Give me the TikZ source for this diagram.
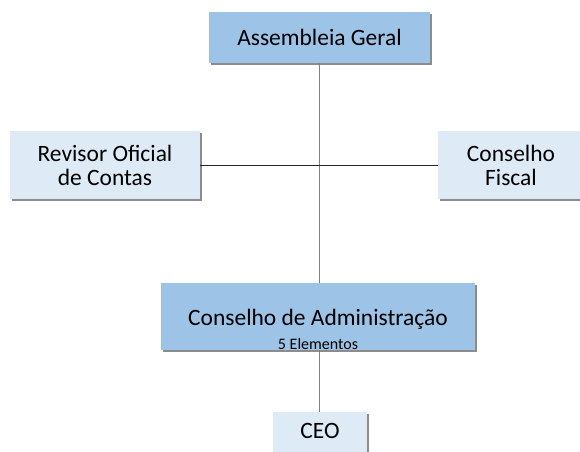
\documentclass[tikz,border=0pt]{standalone}
\usepackage{fontspec}
\setmainfont{Carlito}
\usepackage{tikz}
\usetikzlibrary{shadows}

\definecolor{boxdark}{RGB}{157,195,230}
\definecolor{boxlight}{RGB}{222,235,247}
\definecolor{linegray}{RGB}{128,128,128}

\begin{document}
\begin{tikzpicture}[x=.75pt, y=-.75pt,
  orgbox/.style={inner sep=0pt, align=center, font=\fontsize{17.6}{18}\selectfont,
    drop shadow={shadow xshift=1.8pt, shadow yshift=-1.8pt, fill=black!45, opacity=1}},
  mainbox/.style={orgbox, fill=boxdark},
  sidebox/.style={orgbox, fill=boxlight}]
\useasboundingbox (0,0) rectangle (580,451);
\clip (0,0) rectangle (580,451);

\node[mainbox, minimum width=165.75pt, minimum height=38.25pt] (assembleia) at (319.5,37.5) {Assembleia Geral};
\node[sidebox, minimum width=142.5pt, minimum height=51pt] (revisor) at (105,165) {Revisor Oficial\\de Contas};
\node[sidebox, minimum width=109.5pt, minimum height=51pt] (fiscal) at (511,165) {Conselho\\Fiscal};
\node[mainbox, minimum width=235.5pt, minimum height=50.25pt, text height=49.25pt, text depth=-2.25pt] (administracao) at (318,316.5)
  {Conselho de Administração\\{\fontsize{12}{15.75}\selectfont 5 Elementos}};
\node[sidebox, minimum width=70.5pt, minimum height=33pt, text depth=4pt] (ceo) at (320,434) {CEO};

% ligacoes
\draw[linegray, line width=1.2pt] (assembleia.south) -- (assembleia.south |- administracao.north);
\draw[linegray, line width=1.2pt] (administracao.south -| assembleia.south) -- (ceo.north -| assembleia.south);
\draw[black!85, line width=.7pt] (revisor.east) -- (fiscal.west);
\end{tikzpicture}
\end{document}
